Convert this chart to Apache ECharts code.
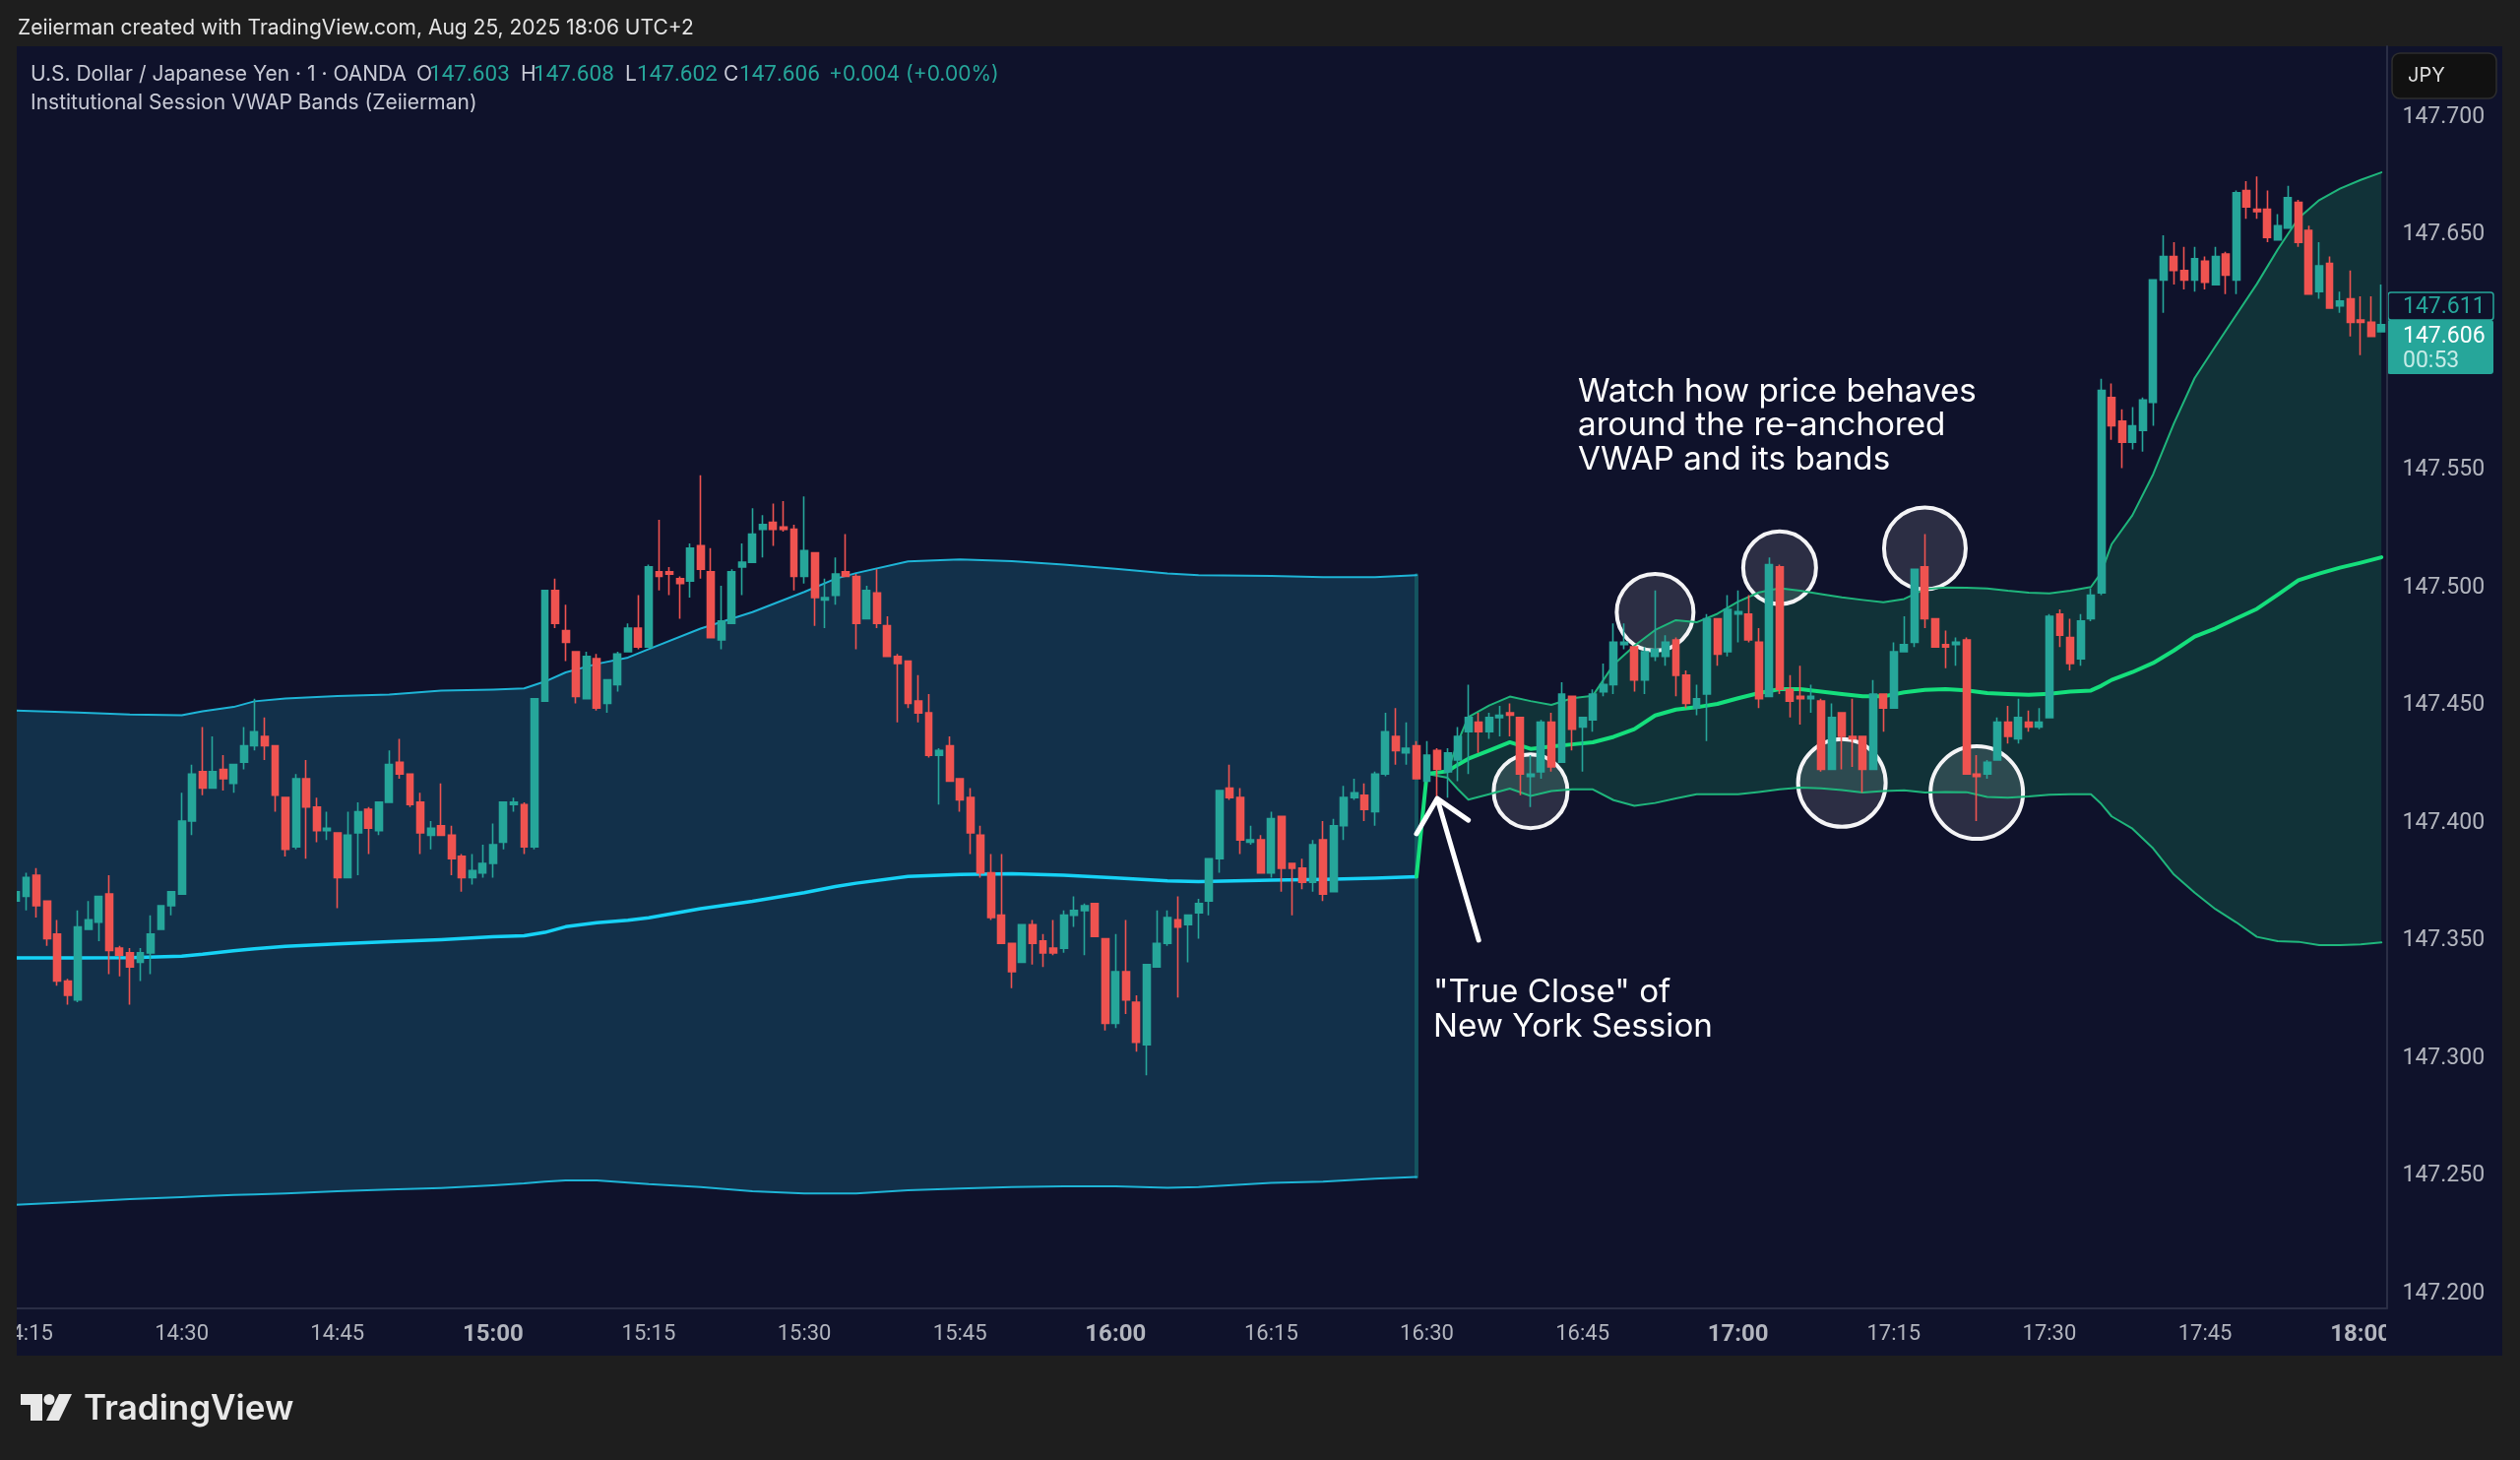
<!doctype html>
<html>
	<head>
		<meta charset="UTF-8">
		<title>USDJPY VWAP</title>
		<style>
			html, body{
				margin: 0;
				background: #1e1e1e;
			}
			#main{
				width: 2560px;
				height: 1483px;
			}
		</style>
	</head>
	<body>
		<div id="main"></div>
		<script src="https://cdn.jsdelivr.net/npm/echarts@6/dist/echarts.min.js"></script>
		<script type="text/javascript">
			var opens = [
				147.366,147.368,147.377,147.366,147.352,147.332,147.324,147.354,147.357,147.369,147.346,147.344,147.340,147.344,147.354,
				147.364,147.369,147.400,147.421,147.414,147.422,147.416,147.425,147.432,147.436,147.432,147.410,147.389,147.418,147.406,
				147.396,147.395,147.376,147.395,147.405,147.396,147.408,147.425,147.420,147.408,147.394,147.398,147.394,147.385,147.376,
				147.378,147.382,147.391,147.407,147.407,147.389,147.451,147.498,147.481,147.472,147.452,147.469,147.450,147.458,147.472,
				147.482,147.474,147.506,147.506,147.503,147.502,147.517,147.506,147.477,147.484,147.508,147.510,147.524,147.527,147.525,
				147.524,147.504,147.514,147.494,147.496,147.506,147.504,147.486,147.497,147.483,147.470,147.468,147.451,147.446,147.428,
				147.432,147.418,147.410,147.394,147.378,147.360,147.348,147.340,147.356,147.349,147.346,147.346,147.360,147.362,147.365,
				147.350,147.314,147.336,147.323,147.305,147.338,147.348,147.358,147.356,147.361,147.366,147.384,147.414,147.410,147.391,
				147.392,147.378,147.402,147.382,147.380,147.374,147.392,147.370,147.398,147.410,147.411,147.404,147.420,147.436,147.429,
				147.432,147.417,147.430,147.421,147.426,147.438,147.442,147.438,147.444,147.446,147.444,147.419,147.421,147.442,147.425,
				147.453,147.440,147.443,147.455,147.458,147.475,147.474,147.460,147.470,147.470,147.477,147.462,147.448,147.454,147.486,
				147.472,147.488,147.488,147.476,147.453,147.508,147.456,147.453,147.452,147.451,147.422,147.446,147.436,147.436,147.422,
				147.454,147.448,147.472,147.476,147.508,147.486,147.475,147.475,147.477,147.420,147.420,147.426,147.442,147.435,147.442,
				147.440,147.444,147.488,147.478,147.469,147.486,147.497,147.580,147.570,147.561,147.566,147.578,147.630,147.640,147.634,
				147.630,147.638,147.628,147.641,147.630,147.668,147.660,147.660,147.647,147.652,147.663,147.651,147.625,147.637,147.619,
				147.622,147.613,147.612,147.608
			];
			var closes = [
				147.370,147.376,147.364,147.350,147.332,147.326,147.355,147.358,147.368,147.345,147.343,147.338,147.344,147.352,147.364,
				147.370,147.400,147.420,147.414,147.421,147.418,147.424,147.432,147.438,147.432,147.411,147.388,147.418,147.406,147.396,
				147.397,147.376,147.394,147.404,147.397,147.408,147.424,147.420,147.407,147.395,147.397,147.394,147.384,147.376,147.379,
				147.382,147.390,147.408,147.408,147.389,147.452,147.498,147.484,147.476,147.453,147.470,147.448,147.460,147.471,147.482,
				147.474,147.508,147.504,147.505,147.501,147.516,147.507,147.478,147.485,147.506,147.510,147.522,147.526,147.524,147.524,
				147.504,147.515,147.495,147.495,147.505,147.504,147.484,147.498,147.484,147.470,147.467,147.450,147.446,147.428,147.430,
				147.417,147.409,147.395,147.378,147.359,147.348,147.336,147.356,147.348,147.344,147.344,147.360,147.362,147.364,147.351,
				147.314,147.336,147.324,147.306,147.339,147.348,147.359,147.355,147.360,147.365,147.384,147.413,147.410,147.392,147.392,
				147.378,147.401,147.380,147.380,147.374,147.390,147.369,147.398,147.410,147.412,147.405,147.420,147.438,147.430,147.431,
				147.418,147.428,147.422,147.429,147.436,147.444,147.438,147.444,147.445,147.445,147.420,147.420,147.442,147.423,147.454,
				147.439,147.444,147.454,147.458,147.476,147.476,147.460,147.472,147.473,147.476,147.462,147.450,147.452,147.486,147.471,
				147.490,147.489,147.477,147.452,147.509,147.456,147.451,147.452,147.453,147.422,147.444,147.436,147.435,147.422,147.454,
				147.448,147.472,147.475,147.507,147.486,147.474,147.474,147.476,147.420,147.419,147.425,147.442,147.436,147.444,147.440,
				147.442,147.487,147.479,147.467,147.485,147.496,147.583,147.568,147.561,147.568,147.579,147.630,147.640,147.634,147.630,
				147.639,147.629,147.640,147.632,147.667,147.661,147.659,147.648,147.653,147.665,147.646,147.624,147.636,147.618,147.621,
				147.612,147.612,147.606,147.611
			];
			var lows = [
				147.366,147.362,147.359,147.347,147.330,147.322,147.323,147.354,147.349,147.335,147.334,147.322,147.332,147.335,147.354,
				147.360,147.369,147.394,147.411,147.414,147.413,147.412,147.422,147.430,147.426,147.404,147.385,147.388,147.384,147.391,
				147.392,147.363,147.376,147.377,147.386,147.394,147.408,147.418,147.406,147.386,147.388,147.394,147.377,147.370,147.373,
				147.376,147.376,147.388,147.404,147.386,147.388,147.451,147.482,147.468,147.450,147.452,147.447,147.446,147.455,147.472,
				147.473,147.474,147.498,147.496,147.486,147.495,147.503,147.478,147.473,147.484,147.496,147.510,147.512,147.517,147.523,
				147.498,147.501,147.483,147.482,147.492,147.504,147.473,147.486,147.482,147.470,147.442,147.448,147.442,147.427,147.407,
				147.417,147.404,147.386,147.376,147.358,147.348,147.329,147.340,147.339,147.338,147.343,147.344,147.355,147.343,147.351,
				147.311,147.312,147.318,147.302,147.292,147.338,147.347,147.325,147.340,147.350,147.360,147.378,147.409,147.386,147.390,
				147.378,147.376,147.370,147.360,147.371,147.370,147.366,147.370,147.392,147.409,147.400,147.398,147.419,147.424,147.424,
				147.418,147.417,147.410,147.410,147.417,147.420,147.429,147.435,147.436,147.436,147.411,147.406,147.418,147.421,147.425,
				147.430,147.421,147.438,147.453,147.454,147.473,147.455,147.454,147.468,147.466,147.453,147.448,147.445,147.434,147.466,
				147.470,147.476,147.476,147.448,147.453,147.454,147.444,147.441,147.446,147.421,147.422,147.422,147.423,147.412,147.422,
				147.438,147.448,147.472,147.474,147.482,147.474,147.465,147.466,147.420,147.400,147.418,147.426,147.433,147.433,147.438,
				147.439,147.444,147.474,147.464,147.466,147.485,147.496,147.562,147.550,147.558,147.557,147.568,147.616,147.628,147.626,
				147.625,147.626,147.628,147.624,147.624,147.656,147.656,147.646,147.647,147.652,147.644,147.624,147.622,147.618,147.616,
				147.606,147.598,147.606,147.608
			];
			var highs = [
				147.370,147.378,147.380,147.366,147.358,147.333,147.362,147.366,147.368,147.377,147.347,147.346,147.346,147.360,147.364,
				147.370,147.412,147.424,147.440,147.436,147.428,147.424,147.440,147.452,147.444,147.432,147.410,147.420,147.426,147.410,
				147.404,147.395,147.404,147.408,147.406,147.408,147.430,147.435,147.420,147.412,147.400,147.416,147.398,147.386,147.386,
				147.390,147.399,147.408,147.410,147.408,147.452,147.498,147.503,147.492,147.472,147.472,147.471,147.460,147.472,147.484,
				147.496,147.509,147.528,147.508,147.504,147.518,147.547,147.516,147.500,147.507,147.518,147.533,147.530,147.535,147.536,
				147.526,147.538,147.514,147.503,147.512,147.522,147.505,147.500,147.507,147.487,147.471,147.468,147.462,147.454,147.431,
				147.436,147.418,147.414,147.398,147.386,147.386,147.348,147.356,147.358,147.352,147.358,147.362,147.368,147.365,147.365,
				147.350,147.352,147.358,147.326,147.339,147.362,147.362,147.368,147.360,147.367,147.384,147.413,147.424,147.414,147.398,
				147.394,147.404,147.402,147.382,147.384,147.392,147.400,147.401,147.415,147.418,147.416,147.421,147.446,147.448,147.442,
				147.434,147.434,147.431,147.431,147.440,147.458,147.446,147.446,147.449,147.450,147.444,147.428,147.443,147.446,147.459,
				147.453,147.444,147.456,147.467,147.484,147.484,147.474,147.474,147.498,147.479,147.478,147.464,147.458,147.488,147.486,
				147.496,147.498,147.496,147.482,147.512,147.509,147.462,147.466,147.458,147.452,147.450,147.446,147.452,147.436,147.460,
				147.454,147.476,147.487,147.507,147.522,147.486,147.481,147.478,147.478,147.428,147.426,147.444,147.449,147.452,147.447,
				147.448,147.488,147.490,147.486,147.488,147.499,147.588,147.586,147.575,147.576,147.580,147.630,147.649,147.646,147.644,
				147.644,147.640,147.644,147.642,147.668,147.672,147.674,147.668,147.658,147.670,147.664,147.653,147.646,147.640,147.625,
				147.634,147.623,147.623,147.628
			];

			// New York session band, read at these minutes
			var nyTimes = ['14:14','14:20','14:25','14:30','14:32','14:35','14:37','14:40','14:45','14:50','14:55','15:00','15:03','15:05','15:07','15:10','15:13','15:15','15:20','15:25','15:30','15:33','15:35','15:40','15:45','15:50','15:55','16:00','16:05','16:08','16:15','16:20','16:25','16:29'];
			var nyUpper = [147.4470,147.4461,147.4453,147.4450,147.4467,147.4485,147.4509,147.4521,147.4531,147.4538,147.4555,147.4559,147.4564,147.4593,147.4632,147.4668,147.4695,147.4731,147.4818,147.4888,147.4974,147.5030,147.5054,147.5104,147.5112,147.5105,147.5090,147.5072,147.5052,147.5045,147.5042,147.5037,147.5037,147.5045];
			var nyVwap = [147.3419,147.3419,147.3420,147.3426,147.3434,147.3449,147.3457,147.3468,147.3478,147.3488,147.3496,147.3508,147.3513,147.3527,147.3551,147.3568,147.3579,147.3589,147.3628,147.3659,147.3696,147.3722,147.3736,147.3765,147.3773,147.3776,147.3770,147.3758,147.3746,147.3743,147.3749,147.3752,147.3757,147.3764];
			var nyLower = [147.2369,147.2382,147.2393,147.2402,147.2406,147.2411,147.2413,147.2418,147.2427,147.2434,147.2441,147.2452,147.2460,147.2468,147.2473,147.2473,147.2464,147.2457,147.2445,147.2427,147.2417,147.2418,147.2418,147.2431,147.2438,147.2445,147.2448,147.2448,147.2442,147.2445,147.2462,147.2468,147.2480,147.2488];

			// re-anchored band after the close
			var nextTimes = ['16:29','16:30','16:32','16:33','16:34','16:36','16:38','16:40','16:42','16:44','16:46','16:48','16:50','16:52','16:54','16:56','16:58','17:00','17:02','17:04','17:06','17:08','17:10','17:12','17:14','17:16','17:18','17:20','17:22','17:24','17:26','17:28','17:30','17:32','17:34','17:35','17:36','17:38','17:40','17:42','17:44','17:46','17:48','17:50','17:52','17:54','17:56','17:58','18:00','18:02'];
			var nextUpper = [147.3764,147.4201,147.4212,147.4338,147.4442,147.4491,147.4529,147.4510,147.4494,147.4522,147.4533,147.4665,147.4745,147.4812,147.4854,147.4845,147.4881,147.4933,147.4972,147.4990,147.4979,147.4965,147.4951,147.4940,147.4930,147.4944,147.4986,147.4993,147.4992,147.4989,147.4979,147.4971,147.4968,147.4979,147.4995,147.5056,147.5177,147.5300,147.5474,147.5690,147.5883,147.6018,147.6151,147.6283,147.6429,147.6562,147.6639,147.6688,147.6725,147.6757];
			var nextVwap = [147.3764,147.4201,147.4212,147.4240,147.4265,147.4300,147.4335,147.4307,147.4317,147.4326,147.4335,147.4358,147.4391,147.4449,147.4474,147.4484,147.4498,147.4522,147.4544,147.4561,147.4561,147.4550,147.4540,147.4530,147.4530,147.4547,147.4558,147.4561,147.4556,147.4544,147.4540,147.4537,147.4541,147.4550,147.4555,147.4575,147.4600,147.4633,147.4672,147.4725,147.4784,147.4819,147.4861,147.4902,147.4962,147.5024,147.5052,147.5077,147.5098,147.5121];
			var nextLower = [147.3764,147.4201,147.4184,147.4135,147.4091,147.4114,147.4138,147.4107,147.4128,147.4135,147.4135,147.4089,147.4065,147.4077,147.4096,147.4114,147.4114,147.4114,147.4124,147.4135,147.4142,147.4139,147.4132,147.4121,147.4128,147.4131,147.4121,147.4124,147.4123,147.4103,147.4100,147.4105,147.4112,147.4114,147.4114,147.4073,147.4020,147.3968,147.3884,147.3773,147.3696,147.3626,147.3570,147.3508,147.3490,147.3487,147.3473,147.3473,147.3476,147.3484];

			// 147.600 is hidden behind the price tags
			var priceTicks = [147.2,147.25,147.3,147.35,147.4,147.45,147.5,147.55,147.65,147.7];

			// the circled touches of the bands
			var circleTimes = ['16:40','16:52','17:04','17:10','17:18','17:23'];
			var circlePrices = [147.4127,147.4887,147.5077,147.4162,147.5159,147.4121];
			var circleSizes = [75,78,74,89,83,94];

			// arrow pointing at the true close, drawn tail, tip, left head, tip, right head
			var arrowTimes = ['16:35','16:31','16:29','16:31','16:34'];
			var arrowPrices = [147.3494,147.4096,147.3946,147.4096,147.4004];

			var minuteLabels = [];
			for(var m = 14 * 60 + 14; m <= 18 * 60 + 2; m++){
				var mm = m % 60;
				minuteLabels.push(Math.floor(m / 60) + ':' + (mm < 10 ? '0' + mm : mm));
			}

			var UP = '#26a69a', DOWN = '#ef5350', NAVY = '#0f122b', FRAME = '#1e1e1e', GREY = '#b2b5be';
			var FONT = 'Inter, "Noto Sans", sans-serif';
			var NUMFONT = 'Roboto, Inter, sans-serif';

			function pairs(times, values){
				return times.map(function(t, i){ return [t, values[i]]; });
			}

			function bandPolygon(times, upper, lower, fill){
				return function(params, api){
					var points = [];
					times.forEach(function(t, i){
						points.push(api.coord([minuteLabels.indexOf(t), upper[i]]));
					});
					for(var i = times.length - 1; i >= 0; i--){
						points.push(api.coord([minuteLabels.indexOf(times[i]), lower[i]]));
					}
					return {type: 'polygon', shape: {points: points}, style: {fill: fill}};
				};
			}

			function lineSeries(data, color, width, z){
				return {
					type: 'line',
					data: data,
					showSymbol: false,
					symbol: 'none',
					silent: true,
					z: z,
					lineStyle: {color: color, width: width, cap: 'round', join: 'round'}
				};
			}

			function txt(x, y, text, fill, size, weight, family){
				return {
					type: 'text',
					z: 60,
					silent: true,
					style: {x: x, y: y, text: text, fill: fill, fontSize: size, fontWeight: weight || 'normal', fontFamily: family || FONT, verticalAlign: 'middle'}
				};
			}

			var candles = opens.map(function(o, i){ return [o, closes[i], lows[i], highs[i]]; });

			var chart = echarts.init(document.getElementById('main'), null, {renderer: 'canvas'});
			chart.setOption({
				animation: false,
				backgroundColor: FRAME,
				// the 14:15 label runs off the canvas on purpose, keep the grid where it is
				grid: {left: 10.7, right: 135.5, top: 47, bottom: 154, outerBoundsMode: 'none'},
				xAxis: {
					type: 'category',
					data: minuteLabels,
					boundaryGap: true,
					axisTick: {show: false},
					axisLine: {lineStyle: {color: '#2a2e45', width: 2}},
					splitLine: {show: false},
					axisLabel: {
						color: GREY,
						fontSize: 22,
						fontFamily: NUMFONT,
						margin: 15,
						interval: function(i, val){ return parseInt(val.split(':')[1], 10) % 15 === 0; },
						formatter: function(val){ return val.slice(-2) === '00' ? '{hour|' + val + '}' : val; },
						rich: {hour: {fontWeight: 'bold', fontSize: 24, color: GREY, fontFamily: NUMFONT}}
					}
				},
				yAxis: {
					type: 'value',
					position: 'right',
					min: 147.1929,
					max: 147.7293,
					z: 70,
					axisTick: {show: false},
					axisLine: {show: true, lineStyle: {color: '#2a2e45', width: 2}},
					splitLine: {show: false},
					axisLabel: {
						color: GREY,
						fontFamily: NUMFONT,
						margin: 16,
						customValues: priceTicks,
						formatter: function(v){ return '{p|' + v.toFixed(3) + '}'; },
						rich: {p: {fontSize: 23, color: GREY, fontFamily: NUMFONT, padding: [4, 0, 0, 0]}}
					}
				},
				series: [
					{type: 'custom', coordinateSystem: 'cartesian2d', data: [[0, 147.4]], z: 1, silent: true, renderItem: bandPolygon(nyTimes, nyUpper, nyLower, '#12304a')},
					{type: 'custom', coordinateSystem: 'cartesian2d', data: [[0, 147.4]], z: 1, silent: true, renderItem: bandPolygon(nextTimes, nextUpper, nextLower, '#113238')},
					{
						type: 'scatter',
						data: pairs(circleTimes, circlePrices),
						symbol: 'circle',
						symbolSize: function(val, params){ return circleSizes[params.dataIndex]; },
						z: 2,
						silent: true,
						itemStyle: {color: 'rgba(255,255,255,0.12)', borderColor: '#f4f4f6', borderWidth: 4, opacity: 1}
					},
					lineSeries([['16:29', nyUpper[nyUpper.length - 1]], ['16:29', nyLower[nyLower.length - 1]]], '#155560', 4, 3),
					lineSeries(pairs(nyTimes, nyUpper), '#1eb4d6', 2, 3),
					lineSeries(pairs(nyTimes, nyLower), '#1eb4d6', 2, 3),
					lineSeries(pairs(nyTimes, nyVwap), '#16d2f6', 3.5, 3),
					lineSeries(pairs(nextTimes, nextUpper), '#1fb67c', 2, 3),
					lineSeries(pairs(nextTimes, nextLower), '#1fb67c', 2, 3),
					lineSeries(pairs(nextTimes, nextVwap), '#15df7c', 4, 3),
					{
						type: 'candlestick',
						data: candles,
						barWidth: 7.4,
						z: 4,
						silent: true,
						itemStyle: {color: UP, color0: DOWN, borderColor: UP, borderColor0: DOWN, borderWidth: 1.6}
					},
					lineSeries(pairs(arrowTimes, arrowPrices), '#ffffff', 5, 5)
				],
				graphic: [
					{type: 'rect', z: -10, silent: true, shape: {x: 17, y: 47, width: 2525, height: 1330}, style: {fill: NAVY}},
					{type: 'rect', z: 50, silent: true, shape: {x: 0, y: 40, width: 17, height: 1345}, style: {fill: FRAME}},
					{type: 'rect', z: 50, silent: true, shape: {x: 2424, y: 1331, width: 118, height: 46}, style: {fill: NAVY}},

					txt(18, 29, 'Zeiierman created with TradingView.com, Aug 25, 2025 18:06 UTC+2', '#e4e4e4', 21),
					txt(31, 76, 'U.S. Dollar / Japanese Yen · 1 · OANDA', '#c9cbd6', 21),
					txt(423, 76, 'O', '#c9cbd6', 21), txt(436, 76, '147.603', UP, 22.5, null, NUMFONT),
					txt(529, 76, 'H', '#c9cbd6', 21), txt(542, 76, '147.608', UP, 22.5, null, NUMFONT),
					txt(635, 76, 'L', '#c9cbd6', 21), txt(647, 76, '147.602', UP, 22.5, null, NUMFONT),
					txt(735, 76, 'C', '#c9cbd6', 21), txt(751, 76, '147.606', UP, 22.5, null, NUMFONT),
					txt(842, 76, '+0.004 (+0.00%)', UP, 21),
					txt(31, 105, 'Institutional Session VWAP Bands (Zeiierman)', '#c9cbd6', 21),

					{type: 'rect', z: 60, silent: true, shape: {x: 2430, y: 54, width: 106, height: 46, r: 8}, style: {fill: '#111111', stroke: '#2e2e2e', lineWidth: 1.5}},
					txt(2446, 77, 'JPY', '#dddddd', 20),
					{type: 'rect', z: 60, silent: true, shape: {x: 2426, y: 297, width: 107, height: 28, r: 3}, style: {fill: NAVY, stroke: UP, lineWidth: 1.5}},
					txt(2441, 312, '147.611', UP, 23, null, NUMFONT),
					{type: 'rect', z: 60, silent: true, shape: {x: 2425, y: 325, width: 108, height: 55, r: 3}, style: {fill: UP}},
					txt(2441, 342, '147.606', '#ffffff', 23, null, NUMFONT),
					txt(2441, 367, '00:53', '#c6ebe7', 23, null, NUMFONT),

					txt(1603, 398, 'Watch how price behaves', '#ffffff', 33.2),
					txt(1603, 432, 'around the re-anchored', '#ffffff', 33.2),
					txt(1603, 467, 'VWAP and its bands', '#ffffff', 33.2),
					txt(1456, 1008, '"True Close" of', '#ffffff', 33.2),
					txt(1456, 1043, 'New York Session', '#ffffff', 33.2),

					{type: 'polygon', z: 60, silent: true, shape: {points: [[21, 1416], [43, 1416], [43, 1443], [31, 1443], [31, 1427], [21, 1427]]}, style: {fill: '#e8e8e8'}},
					{type: 'circle', z: 60, silent: true, shape: {cx: 50, cy: 1421.5, r: 5.5}, style: {fill: '#e8e8e8'}},
					{type: 'polygon', z: 60, silent: true, shape: {points: [[60, 1416], [73, 1416], [60, 1443], [47, 1443]]}, style: {fill: '#e8e8e8'}},
					txt(85, 1431, 'TradingView', '#e8e8e8', 35, 600)
				]
			});
		</script>
	</body>
</html>
